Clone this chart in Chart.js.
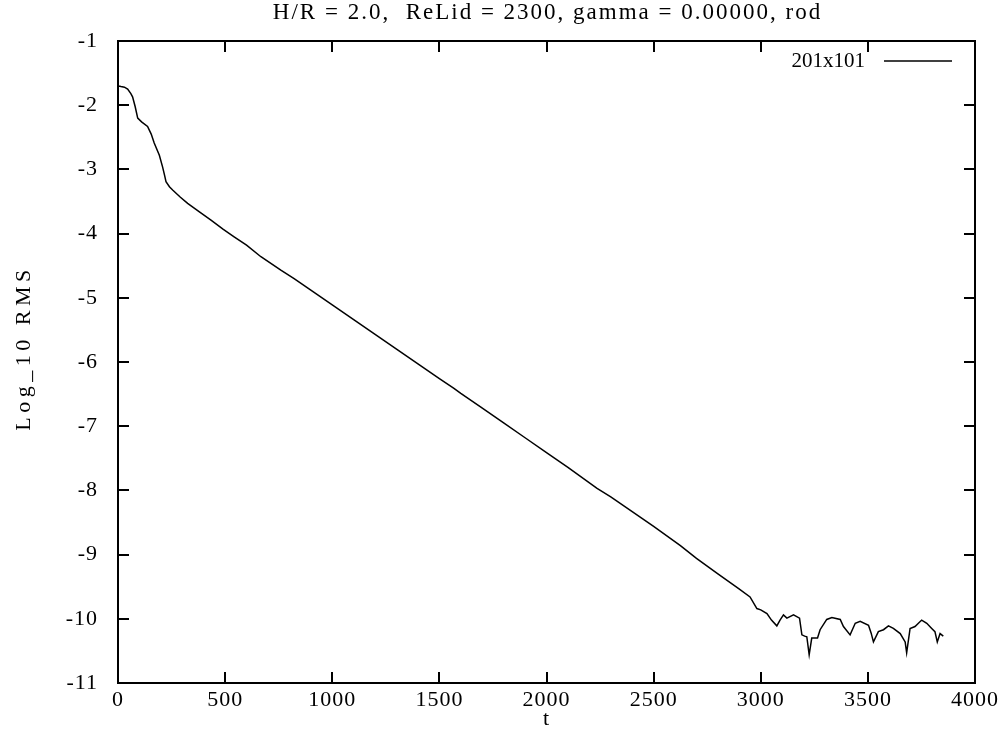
<!DOCTYPE html>
<html>
<head>
<meta charset="utf-8">
<title>Log_10 RMS vs t</title>
<script src="https://cdn.jsdelivr.net/npm/chart.js@4/dist/chart.umd.min.js"></script>
<style>
  html, body { margin: 0; padding: 0; background: #fff; }
  #wrap { width: 1001px; height: 742px; }
</style>
</head>
<body>
<div id="wrap"><canvas id="rms"></canvas></div>
<script>
// residual history, 201x101 grid
var times = [
  0, 14, 30, 45, 60, 68, 80, 92, 110, 138, 155, 169, 193, 208, 218, 224, 240, 255,
  290, 325, 380, 434, 490, 542, 600, 667, 760, 822, 900, 1000, 1100, 1200, 1300,
  1400, 1500, 1568, 1600, 1692, 1800, 1900, 2000, 2100, 2236, 2300, 2400, 2500,
  2625, 2700, 2800, 2897, 2950, 2982, 3000, 3029, 3050, 3075, 3090, 3106, 3122,
  3153, 3181, 3192, 3205, 3215, 3226, 3238, 3265, 3277, 3308, 3332, 3371, 3386,
  3417, 3441, 3464, 3503, 3515, 3526, 3549, 3573, 3596, 3619, 3651, 3674, 3681,
  3697, 3720, 3751, 3775, 3798, 3813, 3824, 3837, 3852
];
var logRms = [
  -1.70, -1.71, -1.72, -1.75, -1.82, -1.87, -2.02, -2.20, -2.26, -2.33, -2.45, -2.59, -2.78, -2.96, -3.10, -3.19, -3.27, -3.32,
  -3.43, -3.53, -3.66, -3.79, -3.93, -4.05, -4.18, -4.36, -4.57, -4.70, -4.88, -5.11, -5.34, -5.57, -5.80,
  -6.03, -6.26, -6.41, -6.49, -6.70, -6.95, -7.18, -7.41, -7.64, -7.97, -8.10, -8.33, -8.56,
  -8.86, -9.06, -9.30, -9.53, -9.66, -9.84, -9.86, -9.92, -10.02, -10.11, -10.02, -9.94, -9.99,
  -9.94, -9.99, -10.25, -10.27, -10.28, -10.56, -10.30, -10.30, -10.17, -10.01, -9.98, -10.01, -10.12,
  -10.25, -10.07, -10.04, -10.10, -10.22, -10.36, -10.20, -10.17, -10.11, -10.15, -10.23, -10.36, -10.53,
  -10.15, -10.12, -10.02, -10.07, -10.15, -10.20, -10.36, -10.23, -10.27
];
var xTicks = [0, 500, 1000, 1500, 2000, 2500, 3000, 3500, 4000];
var yTicks = [-11, -10, -9, -8, -7, -6, -5, -4, -3, -2, -1];
var seriesName = '201x101';
var yLabel = 'Log_10 RMS';
var chartTitle = 'H/R = 2.0,  ReLid = 2300, gamma = 0.00000, rod';

var serif = '"Liberation Serif", "DejaVu Serif", serif';
Chart.defaults.color = '#000';
Chart.defaults.font.family = serif;
Chart.defaults.font.size = 22;

var points = times.map(function(t, i) { return { x: t, y: logRms[i] }; });

// gnuplot-style frame: box with inward ticks mirrored on all four sides,
// the title over the plot box, the rotated y label and the key
var framePlugin = {
  id: 'frame',
  beforeDraw: function(chart) {
    // the postscript font sets its glyphs a little loose
    chart.ctx.letterSpacing = '1px';
  },
  afterDatasetsDraw: function(chart) {
    var ctx = chart.ctx;
    var a = chart.chartArea;
    var xs = chart.scales.x, ys = chart.scales.y;
    var len = 11;
    ctx.save();
    ctx.strokeStyle = '#000';
    ctx.lineWidth = 2;
    ctx.strokeRect(a.left, a.top, a.right - a.left, a.bottom - a.top);
    ctx.beginPath();
    xTicks.forEach(function(v) {
      var px = Math.round(xs.getPixelForValue(v));
      ctx.moveTo(px, a.bottom); ctx.lineTo(px, a.bottom - len);
      ctx.moveTo(px, a.top); ctx.lineTo(px, a.top + len);
    });
    yTicks.forEach(function(v) {
      var py = Math.round(ys.getPixelForValue(v));
      ctx.moveTo(a.left, py); ctx.lineTo(a.left + len, py);
      ctx.moveTo(a.right, py); ctx.lineTo(a.right - len, py);
    });
    ctx.stroke();

    ctx.fillStyle = '#000';
    ctx.textBaseline = 'middle';

    // title, centred over the plot box
    ctx.letterSpacing = '2px';
    ctx.font = '23px ' + serif;
    ctx.textAlign = 'center';
    ctx.fillText(chartTitle, (a.left + a.right) / 2 + 1, 13);

    // y axis label, rotated
    ctx.save();
    ctx.letterSpacing = '4.5px';
    ctx.font = '22px ' + serif;
    ctx.translate(24, 348);
    ctx.rotate(-Math.PI / 2);
    ctx.textAlign = 'center';
    ctx.fillText(yLabel, 0, 0);
    ctx.restore();

    // key in the top right corner: label then line sample
    var ky = a.top + 20;
    ctx.letterSpacing = '0px';
    ctx.font = '21px ' + serif;
    ctx.textAlign = 'right';
    ctx.fillText(seriesName, a.right - 110, ky);
    ctx.beginPath();
    ctx.lineWidth = 1.5;
    ctx.moveTo(a.right - 91, ky);
    ctx.lineTo(a.right - 23, ky);
    ctx.stroke();
    ctx.restore();
  }
};

new Chart(document.getElementById('rms'), {
  type: 'line',
  data: {
    datasets: [{
      label: seriesName,
      data: points,
      borderColor: '#000',
      borderWidth: 1.5,
      pointRadius: 0,
      tension: 0,
      fill: false
    }]
  },
  options: {
    responsive: true,
    maintainAspectRatio: false,
    animation: false,
    layout: { padding: { left: 0, right: 25, top: 41, bottom: 0 } },
    plugins: {
      legend: { display: false },
      tooltip: { enabled: false },
      title: { display: false }
    },
    scales: {
      x: {
        type: 'linear',
        min: 0,
        max: 4000,
        afterFit: function(scale) { scale.height = 59; },
        afterBuildTicks: function(scale) {
          scale.ticks = xTicks.map(function(v) { return { value: v }; });
        },
        grid: { display: false, drawTicks: false },
        border: { display: false },
        ticks: {
          padding: 4, maxRotation: 0, autoSkip: false,
          callback: function(v) { return String(v); }
        },
        title: { display: true, text: 't', font: { size: 22 }, padding: { top: 0, bottom: 10 } }
      },
      y: {
        type: 'linear',
        min: -11,
        max: -1,
        afterFit: function(scale) { scale.width = 118; },
        afterBuildTicks: function(scale) {
          scale.ticks = yTicks.map(function(v) { return { value: v }; });
        },
        grid: { display: false, drawTicks: false },
        border: { display: false },
        ticks: {
          padding: 20, autoSkip: false,
          callback: function(v) { return String(v); }
        }
      }
    }
  },
  plugins: [framePlugin]
});
</script>
</body>
</html>
